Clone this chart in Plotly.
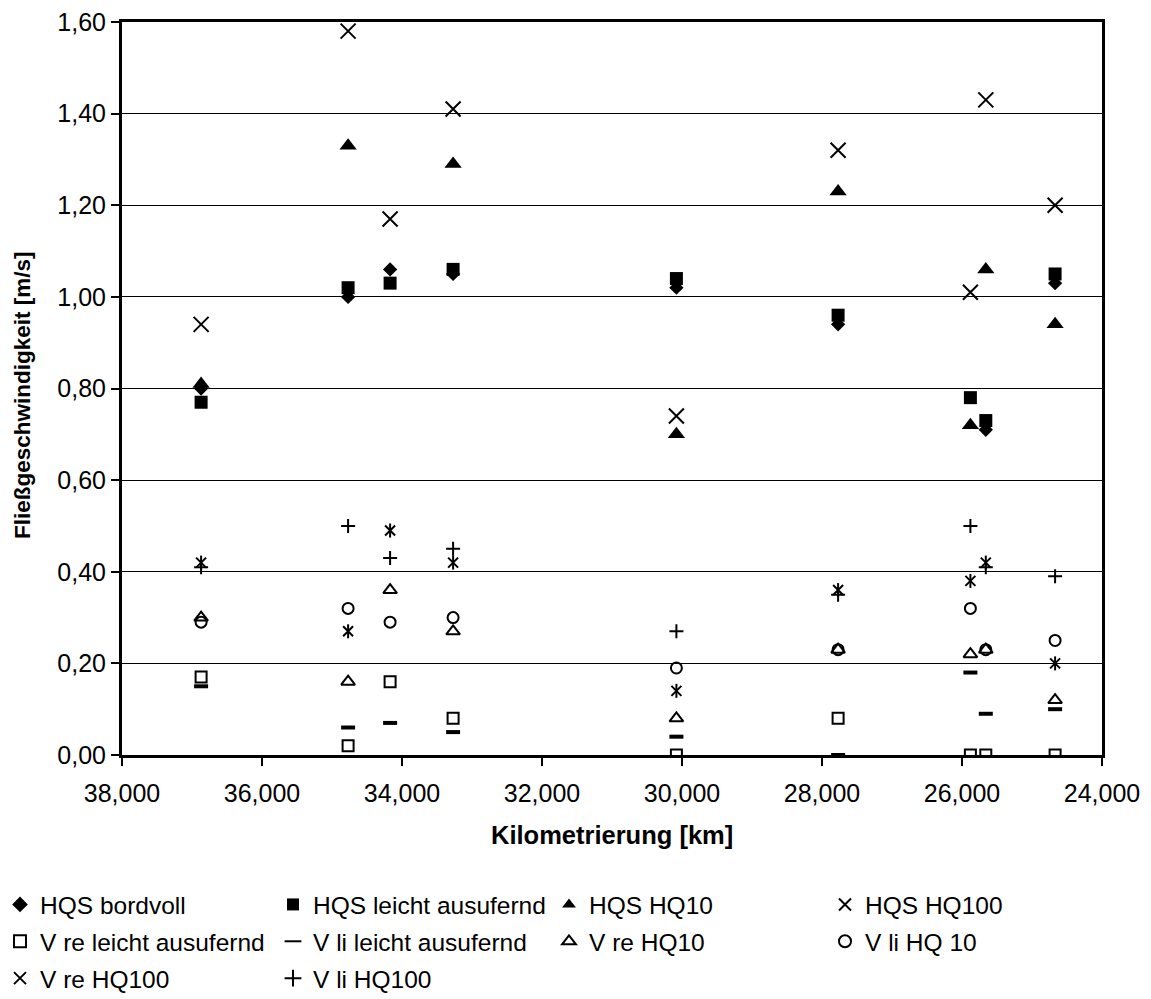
import plotly.graph_objects as go

# Kilometrierung of the cross sections [km]
km = [36.870, 34.770, 34.170, 33.270, 30.080, 27.770, 25.880, 25.660, 24.670]

# Flow velocities [m/s]
hqs_bordvoll = [0.80, 1.00, 1.06, 1.05, 1.02, 0.94, None, 0.71, 1.03]
hqs_leicht = [0.77, 1.02, 1.03, 1.06, 1.04, 0.96, 0.78, 0.73, 1.05]
hqs_hq10 = [0.81, 1.33, None, 1.29, 0.70, 1.23, 0.72, 1.06, 0.94]
hqs_hq100 = [0.94, 1.58, 1.17, 1.41, 0.74, 1.32, 1.01, 1.43, 1.20]
v_re_leicht = [0.17, 0.02, 0.16, 0.08, 0.00, 0.08, 0.00, 0.00, 0.00]
v_li_leicht = [0.15, 0.06, 0.07, 0.05, 0.04, 0.00, 0.18, 0.09, 0.10]
v_re_hq10 = [0.30, 0.16, 0.36, 0.27, 0.08, 0.23, 0.22, 0.23, 0.12]
v_li_hq10 = [0.29, 0.32, 0.29, 0.30, 0.19, 0.23, 0.32, 0.23, 0.25]
v_re_hq100 = [0.42, 0.27, 0.49, 0.42, 0.14, 0.36, 0.38, 0.42, 0.20]
v_li_hq100 = [0.41, 0.50, 0.43, 0.45, 0.27, 0.35, 0.50, 0.41, 0.39]

y_ticks = [0.0, 0.2, 0.4, 0.6, 0.8, 1.0, 1.2, 1.4, 1.6]
x_ticks = [38, 36, 34, 32, 30, 28, 26, 24]

x_title = "Kilometrierung [km]"
y_title = "Fließgeschwindigkeit [m/s]"

FONT = "Arial, 'Liberation Sans', sans-serif"
BLACK = "#000000"

# name, values, symbol, size, line width, legend column
series = [
    ("HQS bordvoll", hqs_bordvoll, "diamond", 11, 0, "legend"),
    ("HQS leicht ausufernd", hqs_leicht, "square", 13, 0, "legend2"),
    ("HQS HQ10", hqs_hq10, "triangle-up", 15, 0, "legend3"),
    ("HQS HQ100", hqs_hq100, "x-thin-open", 15, 2, "legend4"),
    ("V re leicht ausufernd", v_re_leicht, "square-open", 11, 2, "legend"),
    ("V li leicht ausufernd", v_li_leicht, "line-ew-open", 10, 4, "legend2"),
    ("V re HQ10", v_re_hq10, "triangle-up-open", 12, 2, "legend3"),
    ("V li HQ 10", v_li_hq10, "circle-open", 11, 2, "legend4"),
    ("V re HQ100", v_re_hq100, "x-thin-open", 10, 2, "legend"),
    ("V li HQ100", v_li_hq100, "cross-thin-open", 10, 2, "legend2"),
]

fig = go.Figure()
for name, vals, sym, size, lw, leg in series:
    fig.add_trace(go.Scatter(
        x=km, y=vals, mode="markers", name=name,
        legend=leg, legendgroup=name,
        marker=dict(symbol=sym, size=size, color=BLACK,
                    line=dict(color=BLACK, width=lw)),
        hoverinfo="x+y+name",
    ))
    if name == "V re HQ100":
        # vertical stroke completes the six-armed star
        fig.add_trace(go.Scatter(
            x=km, y=vals, mode="markers", name=name,
            legend=leg, legendgroup=name, showlegend=False,
            marker=dict(symbol="line-ns-open", size=10, color=BLACK,
                        line=dict(color=BLACK, width=2)),
            hoverinfo="skip",
        ))

W, H = 1151, 999
L, R, T, B = 122, 1102, 22, 755
PW, PH = R - L, B - T

# legend columns: symbol centre x in pixels
legend_cols = {"legend": 20, "legend2": 293, "legend3": 569, "legend4": 845}
legend_top = 882

layout_legends = {}
for key, px in legend_cols.items():
    layout_legends[key] = dict(
        xref="container", yref="container",
        x=(px - 20) / W, y=1 - legend_top / H,
        xanchor="left", yanchor="top",
        orientation="v", bgcolor="rgba(0,0,0,0)",
        font=dict(family=FONT, size=24.5, color=BLACK),
        itemsizing="constant", tracegroupgap=2,
        traceorder="grouped", valign="middle",
    )

fig.update_layout(
    width=W, height=H,
    margin=dict(l=L, r=W - R, t=T, b=H - B, pad=0, autoexpand=False),
    plot_bgcolor="white", paper_bgcolor="white",
    separators=",.",
    font=dict(family=FONT, size=25, color=BLACK),
    showlegend=True,
    annotations=[
        dict(text="<b>" + x_title + "</b>", xref="paper", yref="paper",
             x=0.5, y=-(835 - B) / PH, xanchor="center", yanchor="middle",
             showarrow=False, font=dict(family=FONT, size=25.5, color=BLACK)),
        dict(text="<b>" + y_title + "</b>", xref="paper", yref="paper",
             x=(22 - L) / PW, y=(B - 395) / PH, xanchor="center", yanchor="middle",
             textangle=-90, showarrow=False,
             font=dict(family=FONT, size=22.5, color=BLACK)),
    ],
    **layout_legends,
)

fig.update_xaxes(
    range=[38, 24], tickvals=x_ticks, tickformat=".3f",
    showgrid=False, zeroline=False,
    showline=True, linecolor=BLACK, linewidth=3, mirror=True,
    ticks="outside", ticklen=8, tickwidth=2, tickcolor=BLACK,
    ticklabelstandoff=6,
    tickfont=dict(family=FONT, size=25, color=BLACK),
)
fig.update_yaxes(
    range=[0, 1.6], tickvals=y_ticks, tickformat=".2f",
    showgrid=True, gridcolor=BLACK, gridwidth=1, zeroline=False,
    showline=True, linecolor=BLACK, linewidth=3, mirror=True,
    ticks="outside", ticklen=8, tickwidth=2, tickcolor=BLACK,
    tickfont=dict(family=FONT, size=25, color=BLACK),
)

fig.write_html("out.html")
